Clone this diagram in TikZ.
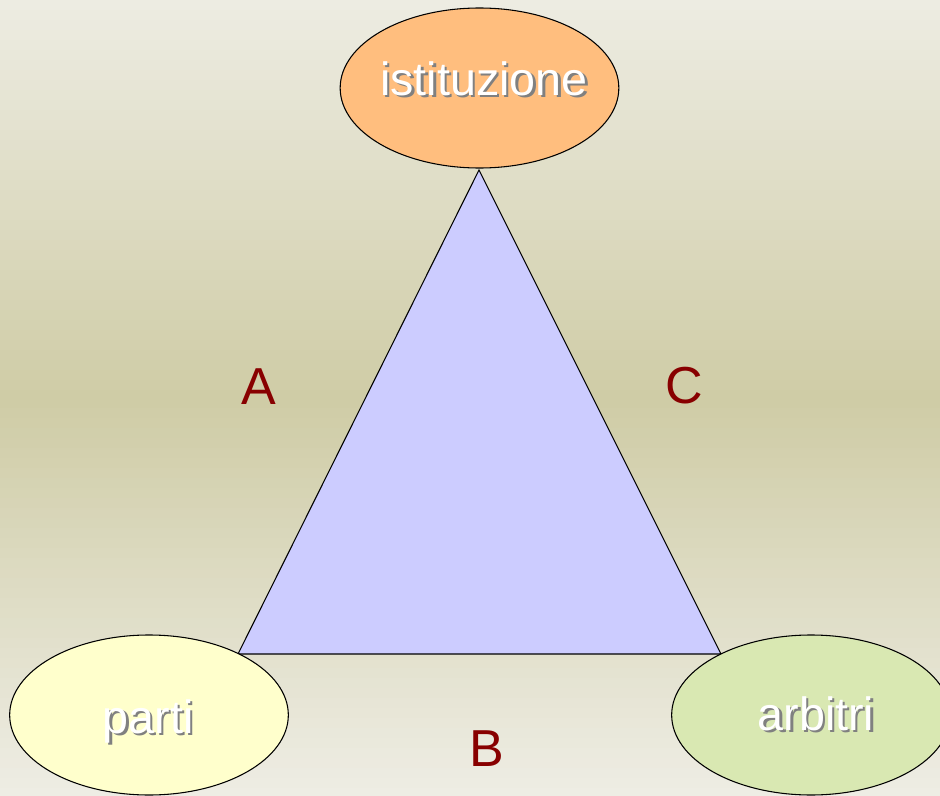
\documentclass[tikz,border=0pt]{standalone}
\usepackage{fontspec}
\setmainfont{Liberation Sans}
\usetikzlibrary{shapes.geometric}
\definecolor{bgtop}{HTML}{EDECE2}
\definecolor{bgmid}{HTML}{CFCCA6}
\definecolor{bgbot}{HTML}{EEEDE4}
\definecolor{tri}{HTML}{CCCCFF}
\definecolor{ist}{HTML}{FFBE7E}
\definecolor{par}{HTML}{FFFFCC}
\definecolor{arb}{HTML}{D9E8B2}
\definecolor{lab}{HTML}{880000}
\newcommand\shtxt[1]{\makebox[0pt][l]{\hspace{1.8pt}\raisebox{-1.8pt}{\textcolor{black!50}{#1}}}\textcolor{white}{#1}}
\tikzset{
  blob/.style={ellipse, draw=black, line width=0.8pt, minimum width=209pt, minimum height=120pt, inner sep=0pt},
  blobtext/.style={anchor=base, inner sep=0pt, font=\fontsize{35}{40}\selectfont},
  sidelabel/.style={anchor=base, inner sep=0pt, text=lab, font=\fontsize{39}{44}\selectfont}
}
\begin{document}
\begin{tikzpicture}[x=0.75pt,y=-0.75pt]
\useasboundingbox (0,0) rectangle (940,796);
\foreach \i in {0,...,39} {
  \pgfmathsetmacro{\p}{100*\i/39}
  \fill[bgmid!\p!bgtop] (0,{\i*10}) rectangle (940,{\i*10+10.5});
}
\foreach \i in {0,...,39} {
  \pgfmathsetmacro{\p}{100*\i/39}
  \fill[bgbot!\p!bgmid] (0,{398+\i*10}) rectangle (940,{398+\i*10+10.5});
}
\coordinate (apex) at (479,170);
\coordinate (bl) at (238,654);
\coordinate (br) at (721,654);
\draw[fill=tri, line width=0.8pt, line join=miter] (apex) -- (bl) -- (br) -- cycle;
\node[blob, fill=ist] (istituzione) at (479.5,88) {};
\node[blob, fill=par] (parti) at (149,715) {};
\node[blob, fill=arb] (arbitri) at (811,715) {};
\node[blobtext] (tist) at (484,95) {\shtxt{istituzione}};
\node[blobtext] (tpar) at (148,733) {\shtxt{parti}};
\node[blobtext] (tarb) at (816,730) {\shtxt{arbitri}};
\node[sidelabel] (A) at (259,404) {A};
\node[sidelabel] (C) at (684,403) {C};
\node[sidelabel] (B) at (487,766) {B};
\end{tikzpicture}
\end{document}
